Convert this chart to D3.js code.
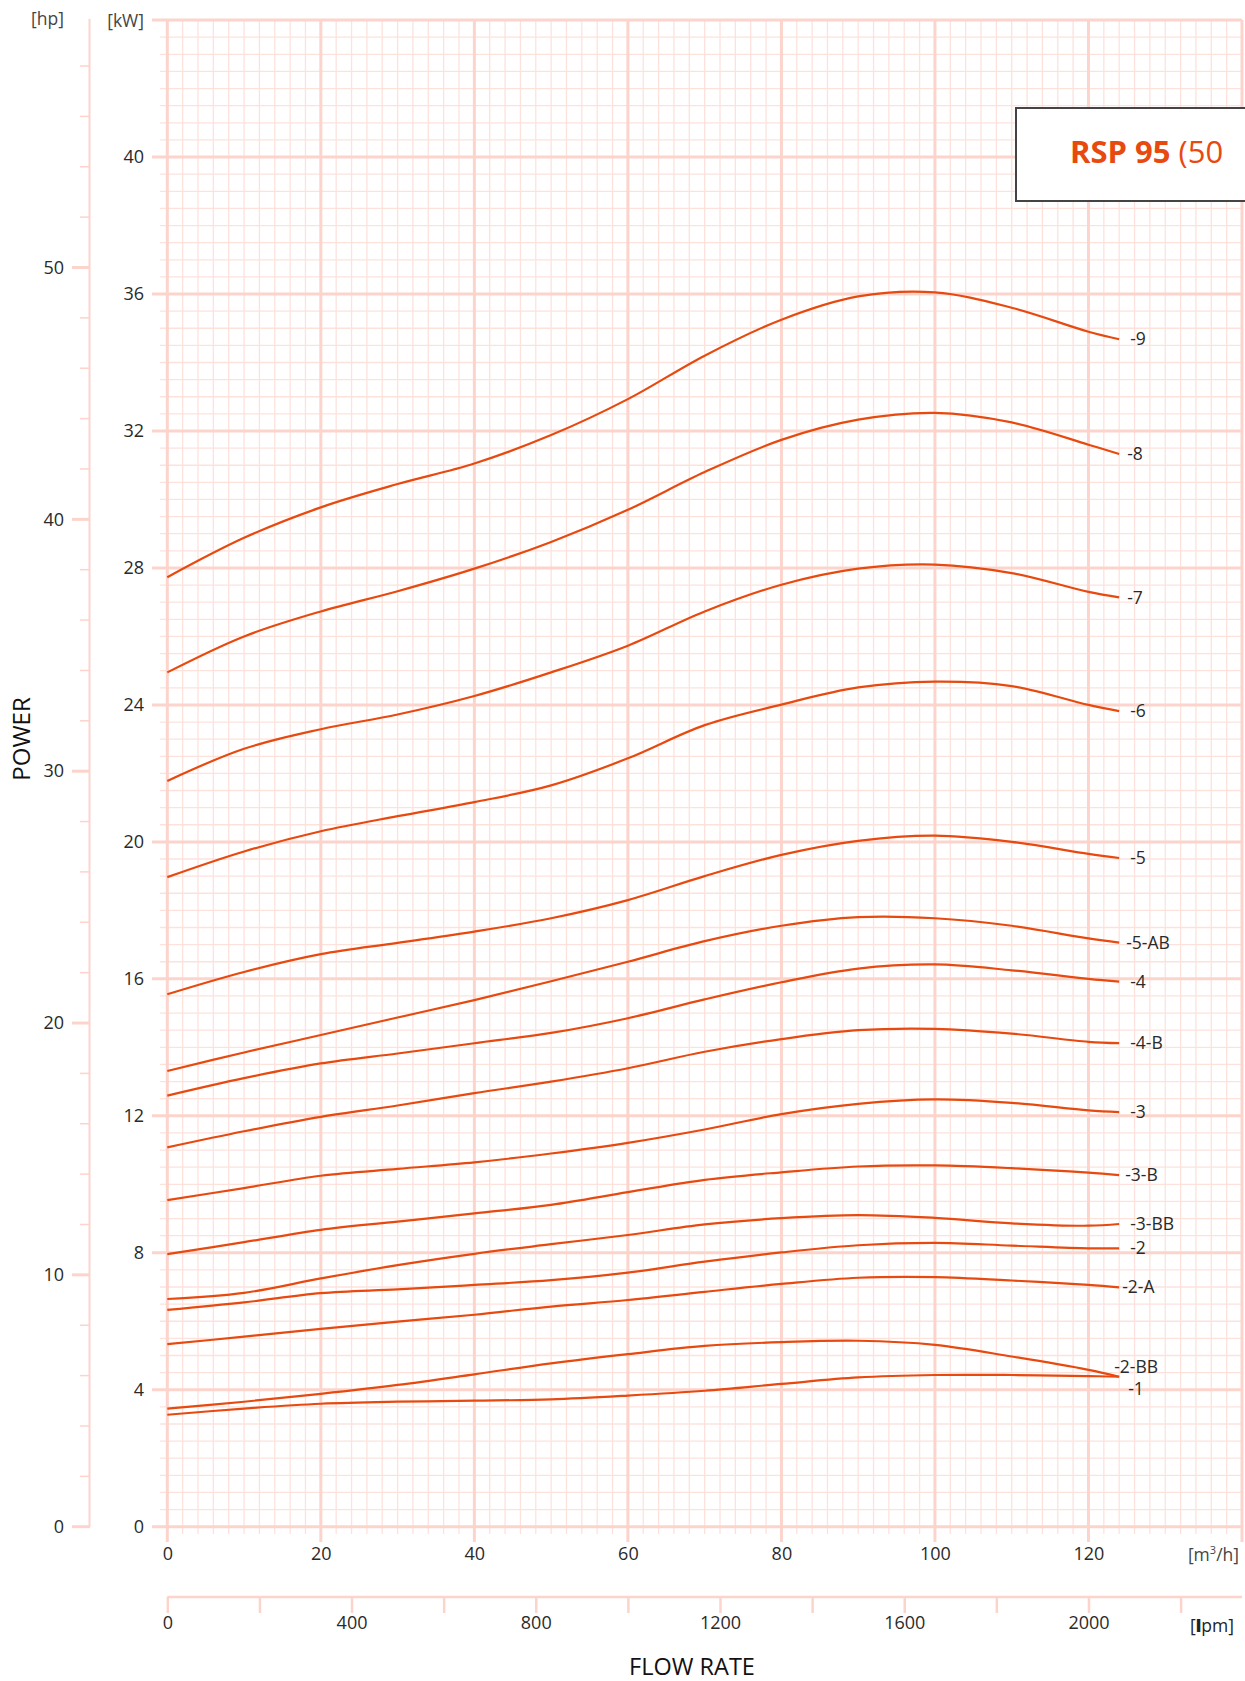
<!DOCTYPE html>
<html>
<head>
<meta charset="utf-8">
<script src="https://cdn.jsdelivr.net/npm/d3@7"></script>
<style>
  html, body { margin: 0; padding: 0; background: #fff; }
  svg { display: block; font-family: "Open Sans", "Noto Sans", sans-serif; }
</style>
</head>
<body>
<svg id="chart" width="1245" height="1681"></svg>
<script>
// ---------- DATA ----------
const flow = [0, 10, 20, 30, 40, 50, 60, 70, 80, 90, 100, 110, 120, 124]; // m3/h
const seriesNames = ["-9", "-8", "-7", "-6", "-5", "-5-AB", "-4", "-4-B", "-3", "-3-B", "-3-BB", "-2", "-2-A", "-2-BB", "-1"];
const p9   = [27.73, 28.88, 29.77, 30.45, 31.05, 31.88, 32.93, 34.2, 35.25, 35.93, 36.05, 35.6, 34.9, 34.68];
const p8   = [24.95, 26.0, 26.73, 27.32, 27.98, 28.76, 29.70, 30.8, 31.74, 32.33, 32.53, 32.25, 31.6, 31.33];
const p7   = [21.78, 22.72, 23.29, 23.72, 24.26, 24.95, 25.73, 26.73, 27.51, 27.98, 28.1, 27.85, 27.3, 27.14];
const p6   = [18.97, 19.72, 20.31, 20.75, 21.16, 21.65, 22.44, 23.41, 24.01, 24.51, 24.68, 24.55, 24.0, 23.82];
const p5   = [15.55, 16.2, 16.72, 17.05, 17.38, 17.77, 18.3, 19.0, 19.62, 20.03, 20.18, 20.0, 19.65, 19.53];
const p5AB = [13.31, 13.85, 14.36, 14.87, 15.38, 15.93, 16.5, 17.1, 17.55, 17.8, 17.77, 17.55, 17.18, 17.06];
const p4   = [12.59, 13.1, 13.53, 13.82, 14.12, 14.42, 14.85, 15.4, 15.9, 16.3, 16.42, 16.25, 16.0, 15.92];
const p4B  = [11.08, 11.55, 11.97, 12.3, 12.66, 13.0, 13.39, 13.87, 14.24, 14.5, 14.54, 14.4, 14.16, 14.12];
const p3   = [9.54, 9.89, 10.25, 10.45, 10.64, 10.9, 11.21, 11.6, 12.05, 12.35, 12.48, 12.38, 12.16, 12.11];
const p3B  = [7.96, 8.31, 8.67, 8.91, 9.15, 9.4, 9.77, 10.13, 10.35, 10.52, 10.55, 10.47, 10.34, 10.27];
const p3BB = [6.65, 6.83, 7.25, 7.64, 7.97, 8.25, 8.52, 8.83, 9.01, 9.1, 9.02, 8.86, 8.79, 8.84];
const p2   = [6.33, 6.55, 6.82, 6.93, 7.06, 7.2, 7.42, 7.74, 8.01, 8.22, 8.29, 8.21, 8.13, 8.13];
const p2A  = [5.33, 5.55, 5.78, 5.99, 6.19, 6.43, 6.62, 6.86, 7.09, 7.27, 7.29, 7.19, 7.06, 6.99];
const p2BB = [3.45, 3.65, 3.88, 4.14, 4.45, 4.77, 5.04, 5.28, 5.39, 5.43, 5.31, 4.97, 4.58, 4.38];
const p1   = [3.27, 3.45, 3.59, 3.65, 3.68, 3.72, 3.83, 3.97, 4.17, 4.36, 4.43, 4.43, 4.40, 4.38];
const seriesValues = [p9, p8, p7, p6, p5, p5AB, p4, p4B, p3, p3B, p3BB, p2, p2A, p2BB, p1];

const kwTicks = [0, 4, 8, 12, 16, 20, 24, 28, 32, 36, 40];
const hpTicks = [0, 10, 20, 30, 40, 50];
const m3hTicks = [0, 20, 40, 60, 80, 100, 120];
const lpmTicks = [0, 400, 800, 1200, 1600, 2000];
const titleBold = "RSP 95";
const titleRest = " (50";

// ---------- LAYOUT ----------
const svg = d3.select("#chart");
const X0 = 167.3, X1 = 1242, Y0 = 1526.7, Y1 = 20.1;
const KW_PER_HP = 0.7355;
const x = d3.scaleLinear().domain([0, 140]).range([X0, X1]);
const y = d3.scaleLinear().domain([0, 44]).range([Y0, Y1]);
const yHp = d3.scaleLinear().domain([0, 44 / KW_PER_HP]).range([Y0, Y1]);
const xLpm = d3.scaleLinear().domain([0, 140 * 1000 / 60]).range([X0, X1]);

const MAJOR = "#fcd4cb", MINOR = "#fde2dc", CURVE = "#e8490f", TXT = "#2a2a2a";

// ---------- GRID ----------
const g = svg.append("g");
g.selectAll("line.hmin").data(d3.range(0, 44.01, 0.5).filter(v => Math.abs(v % 4) > 0.01))
  .join("line").attr("x1", 160).attr("x2", x(140))
  .attr("y1", d => y(d)).attr("y2", d => y(d))
  .attr("stroke", MINOR).attr("stroke-width", 1.3);
g.selectAll("line.vmin").data(d3.range(0, 140.01, 2).filter(v => v % 20 !== 0))
  .join("line").attr("y1", y(44)).attr("y2", 1534)
  .attr("x1", d => x(d)).attr("x2", d => x(d))
  .attr("stroke", MINOR).attr("stroke-width", 1.3);
g.selectAll("line.hmaj").data(d3.range(0, 44.01, 4))
  .join("line").attr("x1", 152).attr("x2", x(140))
  .attr("y1", d => y(d)).attr("y2", d => y(d))
  .attr("stroke", MAJOR).attr("stroke-width", 3);
g.selectAll("line.vmaj").data(d3.range(0, 140.01, 20))
  .join("line").attr("y1", y(44)).attr("y2", 1542)
  .attr("x1", d => x(d)).attr("x2", d => x(d))
  .attr("stroke", MAJOR).attr("stroke-width", 3);

// ---------- AXES ----------
const fs = 18;
const kwAxis = svg.append("g").attr("transform", `translate(144,0)`)
  .call(d3.axisLeft(y).tickValues(kwTicks).tickSize(0).tickPadding(0));
kwAxis.select(".domain").remove();
kwAxis.selectAll("text").attr("font-size", fs).attr("fill", TXT).attr("font-family", "Open Sans");
svg.append("text").attr("x", 144).attr("y", 27).attr("text-anchor", "end")
  .attr("font-size", 17.5).attr("fill", "#444").text("[kW]");

const hpAxis = svg.append("g");
hpAxis.append("line").attr("x1", 89.5).attr("x2", 89.5).attr("y1", Y1 - 1).attr("y2", Y0)
  .attr("stroke", MAJOR).attr("stroke-width", 2);
hpAxis.selectAll("line.hmi").data(d3.range(2, 59, 2).filter(v => v % 10 !== 0))
  .join("line").attr("x1", 80).attr("x2", 89.5)
  .attr("y1", d => yHp(d)).attr("y2", d => yHp(d))
  .attr("stroke", MAJOR).attr("stroke-width", 1.5);
hpAxis.selectAll("line.hma").data(hpTicks)
  .join("line").attr("x1", 72).attr("x2", 90)
  .attr("y1", d => yHp(d)).attr("y2", d => yHp(d))
  .attr("stroke", MAJOR).attr("stroke-width", 3);
const hpLab = svg.append("g").attr("transform", `translate(64,0)`)
  .call(d3.axisLeft(yHp).tickValues(hpTicks).tickSize(0).tickPadding(0));
hpLab.select(".domain").remove();
hpLab.selectAll("text").attr("font-size", fs).attr("fill", TXT).attr("font-family", "Open Sans");
svg.append("text").attr("x", 64).attr("y", 25).attr("text-anchor", "end")
  .attr("font-size", 17.5).attr("fill", "#444").text("[hp]");

const xAx = svg.append("g").attr("transform", `translate(0,1547)`)
  .call(d3.axisBottom(x).tickValues(m3hTicks).tickSize(0).tickPadding(0));
xAx.select(".domain").remove();
xAx.selectAll("text").attr("font-size", fs).attr("fill", TXT).attr("font-family", "Open Sans");
const m3 = svg.append("text").attr("x", 1239).attr("y", 1561).attr("text-anchor", "end")
  .attr("font-size", 17.5).attr("fill", "#444");
m3.append("tspan").text("[m");
m3.append("tspan").attr("font-size", 11).attr("dy", -7).text("3");
m3.append("tspan").attr("dy", 7).text("/h]");

const lAx = svg.append("g").attr("transform", `translate(0,1597)`)
  .call(d3.axisBottom(xLpm).tickValues(d3.range(0, 2201, 200)).tickSize(16).tickFormat(() => ""));
lAx.select(".domain").attr("d", `M${X0},0H${X1}`).attr("stroke", MAJOR).attr("stroke-width", 2.5);
lAx.selectAll(".tick line").attr("stroke", MAJOR).attr("stroke-width", 2.5);
const lLab = svg.append("g").attr("transform", `translate(0,1616)`)
  .call(d3.axisBottom(xLpm).tickValues(lpmTicks).tickSize(0).tickPadding(0).tickFormat(d3.format("d")));
lLab.select(".domain").remove();
lLab.selectAll("text").attr("font-size", fs).attr("fill", TXT).attr("font-family", "Open Sans");
const lpm = svg.append("text").attr("x", 1234).attr("y", 1632).attr("text-anchor", "end")
  .attr("font-size", 17.5).attr("fill", "#222");
lpm.append("tspan").text("[");
lpm.append("tspan").attr("font-weight", 900).text("l");
lpm.append("tspan").text("pm]");

svg.append("text").attr("x", 692).attr("y", 1675).attr("text-anchor", "middle")
  .attr("font-size", 23.5).attr("fill", "#111").text("FLOW RATE");
svg.append("text").attr("transform", "translate(30,739) rotate(-90)").attr("text-anchor", "middle")
  .attr("font-size", 24).attr("fill", "#111").text("POWER");

// ---------- CURVES ----------
const line = d3.line().x(d => x(d[0])).y(d => y(d[1])).curve(d3.curveCatmullRom.alpha(0.5));
const data = seriesNames.map((n, i) => ({ name: n, pts: flow.map((f, j) => [f, seriesValues[i][j]]) }));
svg.append("g").selectAll("path").data(data).join("path")
  .attr("d", d => line(d.pts)).attr("fill", "none")
  .attr("stroke", CURVE).attr("stroke-width", 2.2);

const nudge = { "-8": [8, 0], "-7": [8, 0], "-5-AB": [7, 0], "-3-B": [6, 0], "-2-A": [3, 0], "-2-BB": [-5, -10], "-1": [9, 12] };
svg.append("g").selectAll("text").data(data).join("text")
  .attr("x", d => x(d.pts[d.pts.length - 1][0]) + (nudge[d.name] ? nudge[d.name][0] : 11))
  .attr("y", d => y(d.pts[d.pts.length - 1][1]) + (nudge[d.name] ? nudge[d.name][1] : 0))
  .attr("dy", "0.35em").attr("font-size", 17.5).attr("fill", TXT).text(d => d.name);

// ---------- TITLE BOX ----------
svg.append("rect").attr("x", 1016).attr("y", 108).attr("width", 260).attr("height", 93)
  .attr("fill", "#fff").attr("stroke", "#444").attr("stroke-width", 2);
const t = svg.append("text").attr("x", 1070).attr("y", 163).attr("font-size", 31).attr("fill", CURVE);
t.append("tspan").attr("font-weight", 700).text(titleBold);
t.append("tspan").attr("font-weight", 400).text(titleRest);
</script>
</body>
</html>
